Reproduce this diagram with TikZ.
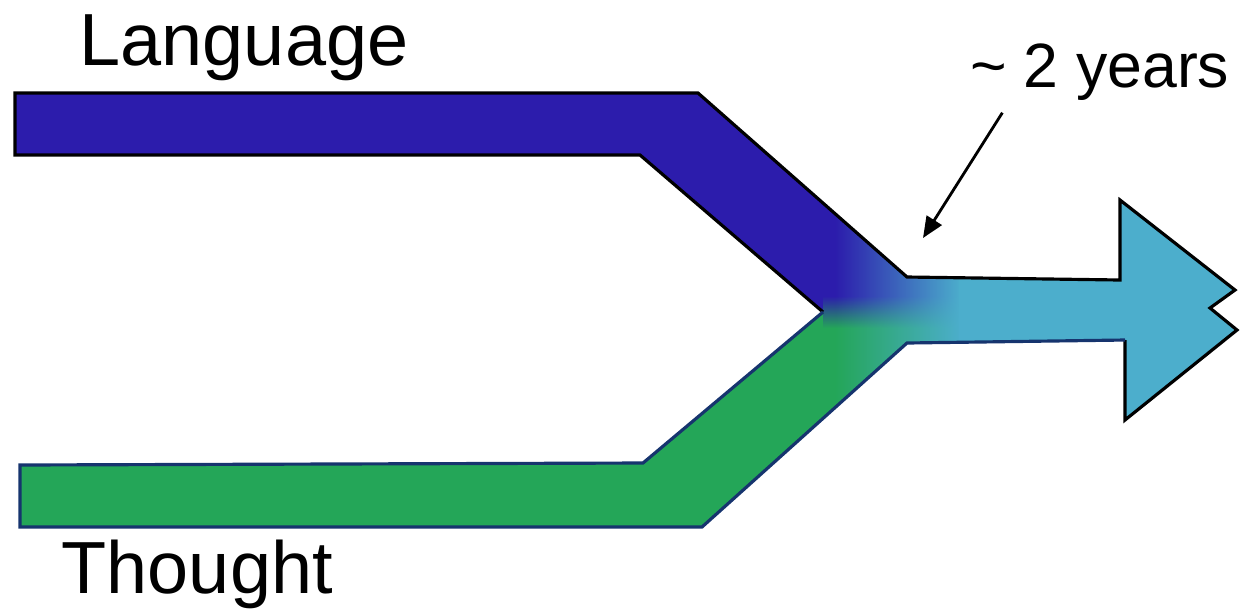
\documentclass[tikz,border=0pt]{standalone}
\usepackage{fontspec}
\setmainfont{Liberation Sans}
\usetikzlibrary{arrows.meta,fadings,calc}

\definecolor{langblue}{RGB}{44,28,172}
\definecolor{thoughtgreen}{RGB}{36,166,88}
\definecolor{mergecyan}{RGB}{76,174,204}
\definecolor{greenedge}{RGB}{22,52,110}

\tikzfading[name=fade in east, left color=transparent!100, right color=transparent!0]

\begin{document}
\begin{tikzpicture}[
    x=0.01cm,
    y=-0.01cm,
    >={Triangle[length=6pt,width=5pt]},
    bandlabel/.style={font=\fontsize{21}{25}\selectfont, inner sep=0pt},
    notelabel/.style={font=\fontsize{17.8}{21}\selectfont, inner sep=0pt},
    edge/.style={line width=0.9pt, line join=miter},
    pointer/.style={->, line width=0.8pt}
]
\useasboundingbox (0,0) rectangle (1245,608);

% --- Bands (filled inside the Y outline) ---
\begin{scope}
    \clip (15,93) -- (698,93) -- (907,277) -- (1120,280) -- (1120,200) -- (1235,290)
        -- (1210,308) -- (1237,330) -- (1125,420) -- (1125,340) -- (907,343)
        -- (702,527) -- (20,527) -- (20,465) -- (643,463) -- (823,312)
        -- (640,155) -- (15,155) -- cycle;
    \fill[langblue] (0,0) rectangle (1245,311);
    \fill[thoughtgreen] (0,311) rectangle (1245,608);
    \shade[top color=langblue, bottom color=thoughtgreen] (823,296) rectangle (1000,328);
    \fill[mergecyan, path fading=fade in east] (835,150) rectangle (960,470);
    \fill[mergecyan] (959,150) rectangle (1245,470);
\end{scope}

% --- Outlines ---
\draw[edge, black] (823,312) -- (640,155) -- (15,155) -- (15,93) -- (698,93) -- (907,277)
    -- (1120,280) -- (1120,200) -- (1235,290) -- (1210,308) -- (1237,330)
    -- (1125,420) -- (1125,340);
\draw[edge, greenedge] (1125,340) -- (907,343) -- (702,527) -- (20,527) -- (20,465)
    -- (643,463) -- (823,312);

% --- Labels ---
\node[bandlabel, anchor=base west] (language) at (79,65) {Language};
\node[bandlabel, anchor=base west] (thought) at (61,593) {Thought};
\node[notelabel, anchor=base east] (years) at (1230,87) {\textasciitilde{} 2 years};

\coordinate (junction) at (923,238);
\draw[pointer] ($(years.south west)+(33,12)$) -- (junction);

\end{tikzpicture}
\end{document}
